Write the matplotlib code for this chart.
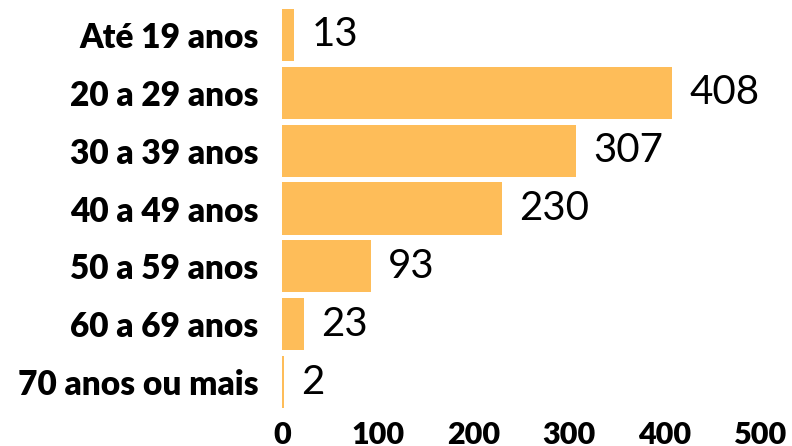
import matplotlib.pyplot as plt

# data
faixas = ['Até 19 anos', '20 a 29 anos', '30 a 39 anos', '40 a 49 anos',
          '50 a 59 anos', '60 a 69 anos', '70 anos ou mais']
valores = [13, 408, 307, 230, 93, 23, 2]
ticks = [0, 100, 200, 300, 400, 500]

cor = '#FEBD59'

fig = plt.figure(figsize=(7.92, 4.46), dpi=100)
ax = fig.add_axes([0.356, 0.0785, 0.604, 0.908])

pos = list(range(len(faixas)))
ax.barh(pos, valores, height=0.9, color=cor)
ax.set_ylim(len(faixas) - 0.5, -0.5)
ax.set_xlim(0, 500)

for p, v in zip(pos, valores):
    ax.text(v + 18, p, str(v), va='center', ha='left', fontsize=29,
            family='Lato', fontweight='normal', color='black')

ax.set_yticks(pos)
ax.set_yticklabels(faixas, fontsize=24, family='Lato', fontweight='heavy')
ax.set_xticks(ticks)
ax.set_xticklabels([str(t) for t in ticks], fontsize=22, family='Lato',
                   fontweight='heavy')
ax.tick_params(axis='y', length=0, pad=17)
ax.tick_params(axis='x', length=0, pad=7)
for s in ax.spines.values():
    s.set_visible(False)

fig.savefig('out.png', dpi=100)
